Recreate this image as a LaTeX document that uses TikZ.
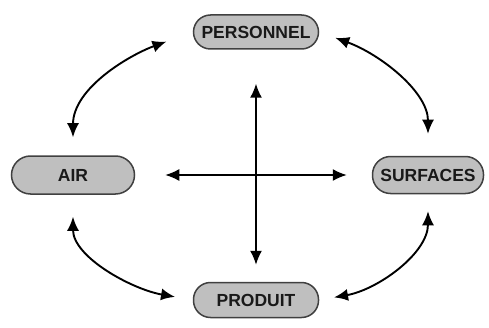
\documentclass[tikz,border=0pt]{standalone}
\usepackage{fontspec}
\setmainfont{Liberation Sans}
\usetikzlibrary{arrows.meta}
\begin{document}
\begin{tikzpicture}[x=1pt,y=1pt,
  pill/.style={draw=black!75, line width=1.5pt, fill=black!25, rounded corners=17pt,
    minimum height=34pt, inner sep=0pt, font=\fontsize{17.5}{17.5}\selectfont\bfseries, text=black!90},
  arr/.style={line width=1.9pt, {Latex[length=14pt,width=12pt]}-{Latex[length=14pt,width=12pt]}}]
\useasboundingbox (0,0) rectangle (489,327);
\node[pill, minimum width=125pt] (PER) at (256,295) {PERSONNEL};
\node[pill, minimum width=123pt, minimum height=38pt, rounded corners=19pt] (AIR) at (73,152) {AIR};
\node[pill, minimum width=111pt, minimum height=37pt, rounded corners=18pt] (SUR) at (428,152) {SURFACES};
\node[pill, minimum width=125pt, minimum height=35pt] (PRO) at (256,27) {PRODUIT};
\draw[arr, shorten <=28pt, shorten >=18pt] (PER.west) to[out=200, in=90] (AIR.north);
\draw[arr, shorten <=17pt, shorten >=22pt] (PER.east) to[out=-20, in=90] (SUR.north);
\draw[arr, shorten <=22pt, shorten >=18pt] (AIR.south) to[out=-90, in=170] (PRO.west);
\draw[arr, shorten <=17pt, shorten >=15pt] (SUR.south) to[out=-90, in=10] (PRO.east);
\draw[arr, line width=1.5pt, shorten <=34pt, shorten >=17pt] (PER.south) -- (PRO.north);
\draw[arr, line width=1.5pt, shorten <=30pt, shorten >=25pt] (AIR.east) -- (SUR.west);
\end{tikzpicture}
\end{document}
